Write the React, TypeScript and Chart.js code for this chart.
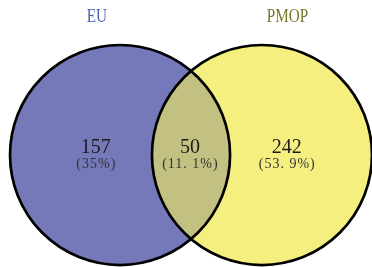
import React, { useEffect, useRef } from "react";
import { Chart, registerables } from "chart.js";

Chart.register(...registerables);

// ---- data ----
const setNames = ["EU", "PMOP"];
const regionCounts = [157, 50, 242]; // EU only, both, PMOP only
const regionPercents = ["(35%)", "(11. 1%)", "(53. 9%)"];

// ---- layout (units of circle radius) ----
const R = 1;
const CENTER_OFFSET = 0.645;
const LABEL_X = [-0.865, -0.01, 0.87];
const TITLE_X = [-0.855, 0.877];
const X_MIN = -1.736, X_MAX = 1.645;
const Y_MIN = -1.018, Y_MAX = 1.409;

const FILLS = ["#7579b9", "#f5ef80"];
const OVERLAP = "#c3c181";
const TITLE_COLORS = ["#4a5bb3", "#76752a"];

const vennPlugin = {
  id: "venn",
  afterDatasetsDraw(chart: any) {
    const ctx = chart.ctx as CanvasRenderingContext2D;
    const meta = chart.getDatasetMeta(0);
    const els = meta.data;
    if (els.length < 2) return;
    const a = els[0], b = els[1];
    const ra = a.options.radius, rb = b.options.radius;
    ctx.save();
    ctx.beginPath();
    ctx.arc(a.x, a.y, ra, 0, Math.PI * 2);
    ctx.clip();
    ctx.beginPath();
    ctx.arc(b.x, b.y, rb, 0, Math.PI * 2);
    ctx.fillStyle = OVERLAP;
    ctx.fill();
    ctx.restore();
    ctx.save();
    ctx.lineWidth = 2.7;
    ctx.strokeStyle = "#000";
    [a, b].forEach((e: any) => {
      ctx.beginPath();
      ctx.arc(e.x, e.y, e.options.radius, 0, Math.PI * 2);
      ctx.stroke();
    });
    ctx.restore();

    const xs = chart.scales.x, ys = chart.scales.y;
    ctx.save();
    ctx.textAlign = "center";
    ctx.textBaseline = "alphabetic";
    ctx.font = "19px 'Liberation Serif', serif";
    setNames.forEach((n, i) => {
      const px = xs.getPixelForValue(TITLE_X[i]);
      const py = ys.getPixelForValue(1.205);
      ctx.save();
      ctx.translate(px, py);
      ctx.scale(0.8, 1);
      ctx.fillStyle = TITLE_COLORS[i];
      ctx.fillText(n, 0, 0);
      ctx.restore();
    });
    regionCounts.forEach((c, i) => {
      const px = xs.getPixelForValue(LABEL_X[i]);
      ctx.fillStyle = "#1a1a1a";
      ctx.font = "20px 'Liberation Serif', serif";
      (ctx as any).letterSpacing = "0px";
      ctx.fillText(String(c), px, ys.getPixelForValue(0.018));
      ctx.fillStyle = "#333";
      ctx.font = "14px 'Liberation Serif', serif";
      (ctx as any).letterSpacing = "1px";
      ctx.fillText(regionPercents[i], px + 0.5, ys.getPixelForValue(-0.118));
      (ctx as any).letterSpacing = "0px";
    });
    ctx.restore();
  },
};

export default function App() {
  const ref = useRef<HTMLCanvasElement | null>(null);
  useEffect(() => {
    if (!ref.current) return;
    const radiusPx = (c: any) => {
      const s = c.chart.scales.x;
      return s.getPixelForValue(R) - s.getPixelForValue(0);
    };
    const chart = new Chart(ref.current, {
      type: "scatter",
      data: {
        datasets: [
          {
            data: [
              { x: -CENTER_OFFSET, y: 0 },
              { x: CENTER_OFFSET, y: 0 },
            ],
            backgroundColor: FILLS,
            borderWidth: 0,
            pointRadius: radiusPx,
            pointHoverRadius: radiusPx,
          } as any,
        ],
      },
      options: {
        animation: false,
        responsive: false,
        devicePixelRatio: 1,
        layout: { padding: 0 },
        clip: false as any,
        plugins: { legend: { display: false }, tooltip: { enabled: false } },
        events: [],
        scales: {
          x: { type: "linear", min: X_MIN, max: X_MAX, display: false },
          y: { type: "linear", min: Y_MIN, max: Y_MAX, display: false },
        },
      },
      plugins: [vennPlugin],
    });
    return () => chart.destroy();
  }, []);
  return (
    <div style={{ position: "fixed", left: 0, top: 0, width: 372, height: 267, background: "#fff" }}>
      <canvas ref={ref} width={372} height={267} />
    </div>
  );
}
